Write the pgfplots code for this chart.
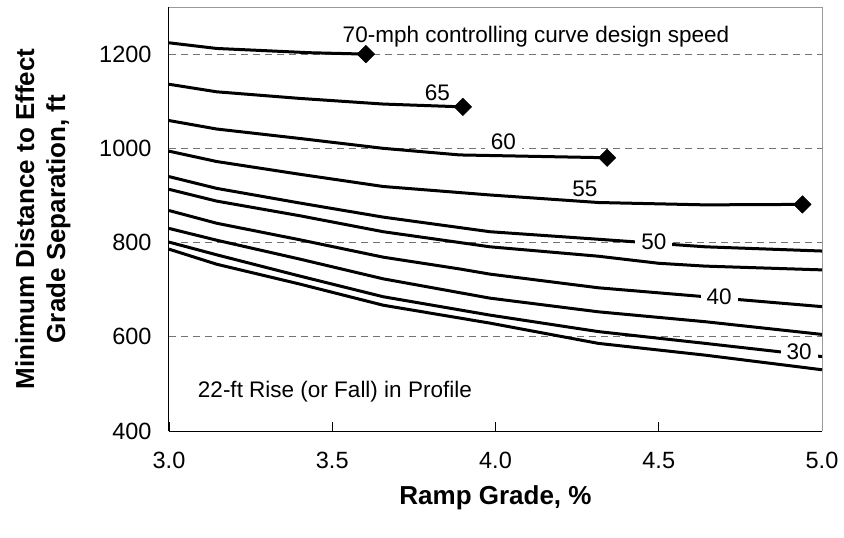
\documentclass[border=0pt]{standalone}
\usepackage{fontspec}
\setmainfont{Liberation Sans}
\usepackage{pgfplots}
\pgfplotsset{compat=1.18}
\begin{document}
\begin{tikzpicture}[
  curve/.style={black, line width=3bp, line join=round},
  lab/.style={fill=white, inner xsep=6bp, inner ysep=1bp, font=\fontsize{22.5bp}{26bp}\selectfont},
]
\path[use as bounding box] (-169bp,-107bp) rectangle (675bp,431bp);
\begin{axis}[
  anchor=south west, at={(0,0)},
  scale only axis, width=653bp, height=424bp,
  xmin=3, xmax=5, ymin=400, ymax=1300,
  axis x line*=bottom, axis y line*=left,
  axis line style={black, line width=1bp},
  xtick={3,3.5,4,4.5,5}, ytick={400,600,800,1000,1200},
  xtick align=inside, major tick length=9bp,
  xtick style={black, line width=0.9bp},
  ytick style={draw=none},
  ymajorgrids,
  grid style={black!55, line width=0.9bp, dash pattern=on 7bp off 5bp},
  /pgf/number format/assume math mode=true,
  /pgf/number format/1000 sep={},
  tick label style={font=\fontsize{23.5bp}{27bp}\selectfont},
  xticklabel style={/pgf/number format/.cd, fixed, fixed zerofill, precision=1, /tikz/.cd, yshift=-18bp},
  yticklabel style={xshift=-14bp},
  xlabel={Ramp Grade, \%},
  ylabel={Minimum Distance to Effect\\Grade Separation, ft},
  xlabel style={font=\fontsize{26bp}{30bp}\selectfont\bfseries, at={(axis description cs:0.5,-0.158)}, anchor=center},
  ylabel style={font=\fontsize{26bp}{31bp}\selectfont\bfseries, align=center, at={(axis description cs:-0.193,0.5)}, anchor=center, rotate=0},
  clip=false,
]
\draw[black!40, line width=1bp] (rel axis cs:0,1) -- (rel axis cs:1,1) -- (rel axis cs:1,0);
% 70
\addplot[curve, no marks] coordinates {(3.0,1224) (3.146,1212) (3.43,1203) (3.603,1200)};
% 65
\addplot[curve, no marks] coordinates {(3.0,1136) (3.146,1120) (3.4,1106) (3.656,1094) (3.90,1088)};
% 60
\addplot[curve, no marks] coordinates {(3.0,1059) (3.146,1041) (3.4,1021) (3.656,1000) (3.89,986) (4.342,980)};
% 55
\addplot[curve, no marks] coordinates {(3.0,994) (3.146,972) (3.4,945) (3.656,919) (3.983,901) (4.315,885) (4.642,880) (4.94,881)};
% 50
\addplot[curve, no marks] coordinates {(3.0,940) (3.146,915) (3.4,884) (3.656,854) (3.983,823) (4.315,807) (4.642,791) (5.0,782)};
% 45
\addplot[curve, no marks] coordinates {(3.0,913) (3.146,888) (3.4,857) (3.656,823) (3.983,791) (4.315,771) (4.50,756) (4.642,750) (5.0,742)};
% 40
\addplot[curve, no marks] coordinates {(3.0,868) (3.146,841) (3.4,806) (3.656,769) (3.89,744) (3.983,733) (4.315,704) (4.642,685) (5.0,664)};
% 35
\addplot[curve, no marks] coordinates {(3.0,830) (3.146,805) (3.4,765) (3.656,723) (3.983,682) (4.315,653) (4.642,632) (5.0,605)};
% 30
\addplot[curve, no marks] coordinates {(3.0,801) (3.146,774) (3.4,729) (3.656,685) (3.983,646) (4.315,611) (4.642,586) (5.0,558)};
% 25
\addplot[curve, no marks] coordinates {(3.0,786) (3.146,754) (3.4,712) (3.656,667) (3.983,629) (4.315,586) (4.642,561) (5.0,530)};
% end markers
\addplot[only marks, mark=square*, mark size=6.2bp, mark options={rotate=45, fill=black, draw=black}] coordinates {(3.603,1200) (3.90,1088) (4.342,980) (4.94,881)};
\node[font=\fontsize{22.5bp}{26bp}\selectfont] at (axis cs:4.124,1238) {70-mph controlling curve design speed};
\node[lab, fill=none] at (axis cs:3.822,1117) {65};
\node[lab] at (axis cs:4.024,1013) {60};
\node[lab, fill=none] at (axis cs:4.274,915) {55};
\node[lab] at (axis cs:4.485,802) {50};
\node[lab] at (axis cs:4.685,684) {40};
\node[lab] at (axis cs:4.93,568) {30};
\node[anchor=west, font=\fontsize{22.5bp}{26bp}\selectfont] at (axis cs:3.078,483) {22-ft Rise (or Fall) in Profile};
\end{axis}
\end{tikzpicture}
\end{document}
